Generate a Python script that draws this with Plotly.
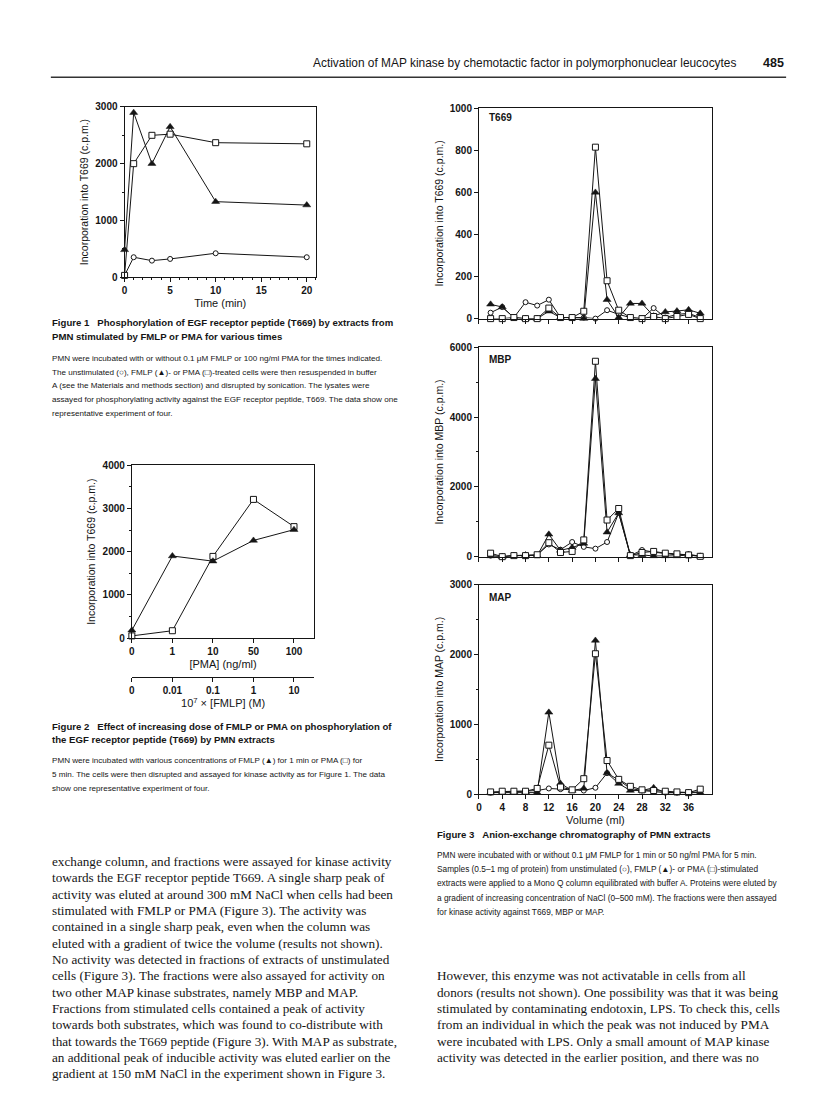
import plotly.graph_objects as go

# page is 816x1099; the html body adds an 8px margin, so the figure is drawn 8px smaller
W, H = 808, 1091
OFF = 8

# --- Figure 1: time course (T669) ---
F1_TIME = [0, 1, 3, 5, 10, 20]
F1_CTRL = [30, 350, 290, 320, 420, 350]
F1_FMLP = [480, 2900, 2000, 2650, 1330, 1270]
F1_PMA = [30, 2000, 2500, 2520, 2370, 2350]

# --- Figure 2: dose response ---
F2_PMA_DOSE = ['0', '1', '10', '50', '100']
F2_FMLP_DOSE = ['0', '0.01', '0.1', '1', '10']
F2_PMA = [50, 170, 1890, 3210, 2580]
F2_FMLP = [180, 1900, 1780, 2260, 2510]

# --- Figure 3: Mono Q fractions ---
VOL = [2, 4, 6, 8, 10, 12, 14, 16, 18, 20, 22, 24, 26, 28, 30, 32, 34, 36, 38]
T669_CTRL = [28, 55, 5, 78, 62, 90, 5, 5, 5, 0, 40, 20, 5, 0, 50, 5, 20, 25, 5]
T669_FMLP = [68, 55, 5, 0, 0, 35, 5, 5, 0, 600, 90, 5, 72, 72, 12, 32, 36, 42, 25]
T669_PMA = [0, 0, 5, 0, 0, 50, 5, 5, 35, 815, 180, 40, 5, 0, 10, 0, 10, 20, 0]
MBP_CTRL = [30, 0, 40, 30, 50, 350, 200, 420, 280, 230, 420, 1250, 30, 190, 130, 80, 50, 70, 10]
MBP_FMLP = [20, 0, 20, 50, 30, 640, 180, 260, 380, 5100, 700, 1250, 50, 50, 20, 20, 20, 50, 10]
MBP_PMA = [100, 0, 30, 30, 55, 400, 120, 150, 480, 5600, 1050, 1380, 30, 120, 150, 100, 80, 50, 10]
MAP_CTRL = [20, 30, 30, 40, 50, 80, 70, 60, 50, 90, 300, 200, 80, 50, 30, 20, 20, 20, 30]
MAP_FMLP = [20, 20, 30, 30, 20, 1170, 150, 50, 80, 2200, 300, 150, 50, 50, 90, 20, 20, 20, 20]
MAP_PMA = [30, 40, 40, 40, 80, 700, 100, 60, 220, 2010, 480, 210, 110, 60, 50, 40, 30, 20, 70]
VOL_TICKS = [0, 4, 8, 12, 16, 20, 24, 28, 32, 36]

INK = '#151515'
SANS = 'Liberation Sans, Arial, sans-serif'
SERIF = 'Liberation Serif, Times New Roman, serif'


def px(x):
    return (x - OFF) / W


def py(y):
    return 1 - (y - OFF) / H


# marker styles: open circle, filled triangle, open square
CIRC = dict(symbol='circle', size=5, color='white', line=dict(color=INK, width=1))
TRI = dict(symbol='triangle-up', size=7, color=INK, line=dict(color=INK, width=0.5))
SQR = dict(symbol='square', size=6, color='white', line=dict(color=INK, width=1))

fig = go.Figure()


def series(x, y, mk, xa, ya):
    fig.add_trace(go.Scatter(x=x, y=y, mode='lines+markers', marker=mk,
                             line=dict(color=INK, width=1),
                             xaxis=xa, yaxis=ya, showlegend=False, cliponaxis=False))


series(F1_TIME, F1_CTRL, CIRC, 'x', 'y')
series(F1_TIME, F1_FMLP, TRI, 'x', 'y')
series(F1_TIME, F1_PMA, SQR, 'x', 'y')

series(F2_PMA_DOSE, F2_PMA, SQR, 'x2', 'y2')
series(F2_FMLP_DOSE, F2_FMLP, TRI, 'x3', 'y2')

for xa, ya, c, f, p in [('x4', 'y4', T669_CTRL, T669_FMLP, T669_PMA),
                        ('x5', 'y5', MBP_CTRL, MBP_FMLP, MBP_PMA),
                        ('x6', 'y6', MAP_CTRL, MAP_FMLP, MAP_PMA)]:
    series(VOL, c, CIRC, xa, ya)
    series(VOL, f, TRI, xa, ya)
    series(VOL, p, SQR, xa, ya)


def ax(**kw):
    d = dict(showline=True, linecolor=INK, linewidth=1, mirror=True,
             ticks='outside', ticklen=4, tickcolor=INK, tickwidth=1,
             showgrid=False, zeroline=False,
             tickfont=dict(family=SANS, size=10, color=INK, weight='bold'))
    d.update(kw)
    return d


def ytitle(t):
    return dict(text=t, font=dict(family=SANS, size=10.5, color=INK), standoff=4)


def xtitle(t):
    return dict(text=t, font=dict(family=SANS, size=11, color=INK), standoff=4)


F3X = [px(477.7), px(711.5)]

fig.update_layout(
    width=W, height=H, margin=dict(l=0, r=0, t=0, b=0),
    paper_bgcolor='white', plot_bgcolor='rgba(0,0,0,0)',
    # figure 1
    xaxis=ax(domain=[px(122), px(314)], anchor='y', range=[0, 21], tickvals=[0, 5, 10, 15, 20],
             minor=dict(dtick=1, ticks='outside', ticklen=2, tickcolor=INK),
             title=xtitle('Time (min)')),
    yaxis=ax(domain=[py(274), py(102)], anchor='x', range=[0, 3000], tickvals=[0, 1000, 2000, 3000],
             minor=dict(dtick=500, ticks='outside', ticklen=2, tickcolor=INK),
             title=ytitle('Incorporation into T669 (c.p.m.)')),
    # figure 2
    xaxis2=ax(domain=[px(129.3), px(312.4)], anchor='y2', type='category', range=[0, 4.5],
              title=xtitle('[PMA] (ng/ml)')),
    xaxis3=ax(overlaying='x2', anchor='free', position=py(678), type='category', range=[0, 4.5],
              mirror=False, side='bottom', title=xtitle('10<sup>7</sup> × [FMLP] (M)')),
    yaxis2=ax(domain=[py(639), py(464.3)], anchor='x2', range=[0, 4000], tickvals=[0, 1000, 2000, 3000, 4000],
              minor=dict(dtick=500, ticks='outside', ticklen=2, tickcolor=INK),
              title=ytitle('Incorporation into T669 (c.p.m.)')),
    # figure 3
    xaxis4=ax(domain=F3X, anchor='y4', range=[0, 40], tickvals=VOL_TICKS, showticklabels=False),
    yaxis4=ax(domain=[py(316), py(103.3)], anchor='x4', range=[0, 1000], dtick=200,
              title=ytitle('Incorporation into T669 (c.p.m.)')),
    xaxis5=ax(domain=F3X, anchor='y5', range=[0, 40], tickvals=VOL_TICKS, showticklabels=False),
    yaxis5=ax(domain=[py(556.7), py(345)], anchor='x5', range=[0, 6000], tickvals=[0, 2000, 4000, 6000],
              minor=dict(dtick=1000, ticks='outside', ticklen=2, tickcolor=INK),
              title=ytitle('Incorporation into MBP (c.p.m.)')),
    xaxis6=ax(domain=F3X, anchor='y6', range=[0, 40], tickvals=VOL_TICKS, title=xtitle('Volume (ml)')),
    yaxis6=ax(domain=[py(796.7), py(585)], anchor='x6', range=[0, 3000], tickvals=[0, 1000, 2000, 3000],
              minor=dict(dtick=500, ticks='outside', ticklen=2, tickcolor=INK),
              title=ytitle('Incorporation into MAP (c.p.m.)')),
)

ann = []


def text(x, y, s, size=8.3, family=SANS, bold=False, anchor='left'):
    ann.append(dict(x=px(x), y=py(y), xref='paper', yref='paper', text=s, showarrow=False,
                    xanchor=anchor, yanchor='middle', align=anchor, borderpad=0,
                    font=dict(family=family, size=size, color=INK, weight='bold' if bold else 'normal')))


LX, RX = 48, 435
CAP_B = 9.6

# running head
text(737, 58, 'Activation of MAP kinase by chemotactic factor in polymorphonuclear leucocytes',
     size=11.9, anchor='right')
text(785, 58, '485', size=12.5, bold=True, anchor='right')
fig.add_shape(type='line', xref='paper', yref='paper', x0=px(LX), x1=px(786), y0=py(72), y1=py(72),
              line=dict(color='#333', width=1.5))

# panel labels
text(487, 113, 'T669', size=10, bold=True)
text(487, 357, 'MBP', size=10, bold=True)
text(487, 598, 'MAP', size=10, bold=True)

# figure 1 caption
text(LX, 320, 'Figure 1&nbsp;&nbsp;&nbsp;Phosphorylation of EGF receptor peptide (T669) by extracts from',
     size=CAP_B, bold=True)
text(LX, 334, 'PMN stimulated by FMLP or PMA for various times', size=CAP_B, bold=True)
cap1 = ['PMN were incubated with or without 0.1 μM FMLP or 100 ng/ml PMA for the times indicated.',
        'The unstimulated (○), FMLP (▲)- or PMA (□)-treated cells were then resuspended in buffer',
        'A (see the Materials and methods section) and disrupted by sonication. The lysates were',
        'assayed for phosphorylating activity against the EGF receptor peptide, T669. The data show one',
        'representative experiment of four.']
for i, s in enumerate(cap1):
    text(LX, 356 + 14 * i, s, size=8.1)

# figure 2 caption
text(LX, 728, 'Figure 2&nbsp;&nbsp;&nbsp;Effect of increasing dose of FMLP or PMA on phosphorylation of',
     size=CAP_B, bold=True)
text(LX, 742, 'the EGF receptor peptide (T669) by PMN extracts', size=CAP_B, bold=True)
cap2 = ['PMN were incubated with various concentrations of FMLP (▲) for 1 min or PMA (□) for',
        '5 min. The cells were then disrupted and assayed for kinase activity as for Figure 1. The data',
        'show one representative experiment of four.']
for i, s in enumerate(cap2):
    text(LX, 763 + 14 * i, s, size=8.1)

# figure 3 caption
text(RX, 838, 'Figure 3&nbsp;&nbsp;&nbsp;Anion-exchange chromatography of PMN extracts', size=CAP_B, bold=True)
cap3 = ['PMN were incubated with or without 0.1 μM FMLP for 1 min or 50 ng/ml PMA for 5 min.',
        'Samples (0.5–1 mg of protein) from unstimulated (○), FMLP (▲)- or PMA (□)-stimulated',
        'extracts were applied to a Mono Q column equilibrated with buffer A. Proteins were eluted by',
        'a gradient of increasing concentration of NaCl (0–500 mM). The fractions were then assayed',
        'for kinase activity against T669, MBP or MAP.']
for i, s in enumerate(cap3):
    text(RX, 858 + 14.5 * i, s)

# body text
body_left = ['exchange column, and fractions were assayed for kinase activity',
             'towards the EGF receptor peptide T669. A single sharp peak of',
             'activity was eluted at around 300 mM NaCl when cells had been',
             'stimulated with FMLP or PMA (Figure 3). The activity was',
             'contained in a single sharp peak, even when the column was',
             'eluted with a gradient of twice the volume (results not shown).',
             'No activity was detected in fractions of extracts of unstimulated',
             'cells (Figure 3). The fractions were also assayed for activity on',
             'two other MAP kinase substrates, namely MBP and MAP.',
             'Fractions from stimulated cells contained a peak of activity',
             'towards both substrates, which was found to co-distribute with',
             'that towards the T669 peptide (Figure 3). With MAP as substrate,',
             'an additional peak of inducible activity was eluted earlier on the',
             'gradient at 150 mM NaCl in the experiment shown in Figure 3.']
for i, s in enumerate(body_left):
    text(LX, 865 + 16.5 * i, s, size=13.2, family=SERIF)

body_right = ['However, this enzyme was not activatable in cells from all',
              'donors (results not shown). One possibility was that it was being',
              'stimulated by contaminating endotoxin, LPS. To check this, cells',
              'from an individual in which the peak was not induced by PMA',
              'were incubated with LPS. Only a small amount of MAP kinase',
              'activity was detected in the earlier position, and there was no']
for i, s in enumerate(body_right):
    text(RX, 980.5 + 16.5 * i, s, size=13.2, family=SERIF)

fig.update_layout(annotations=ann)
fig.write_html("out.html")
